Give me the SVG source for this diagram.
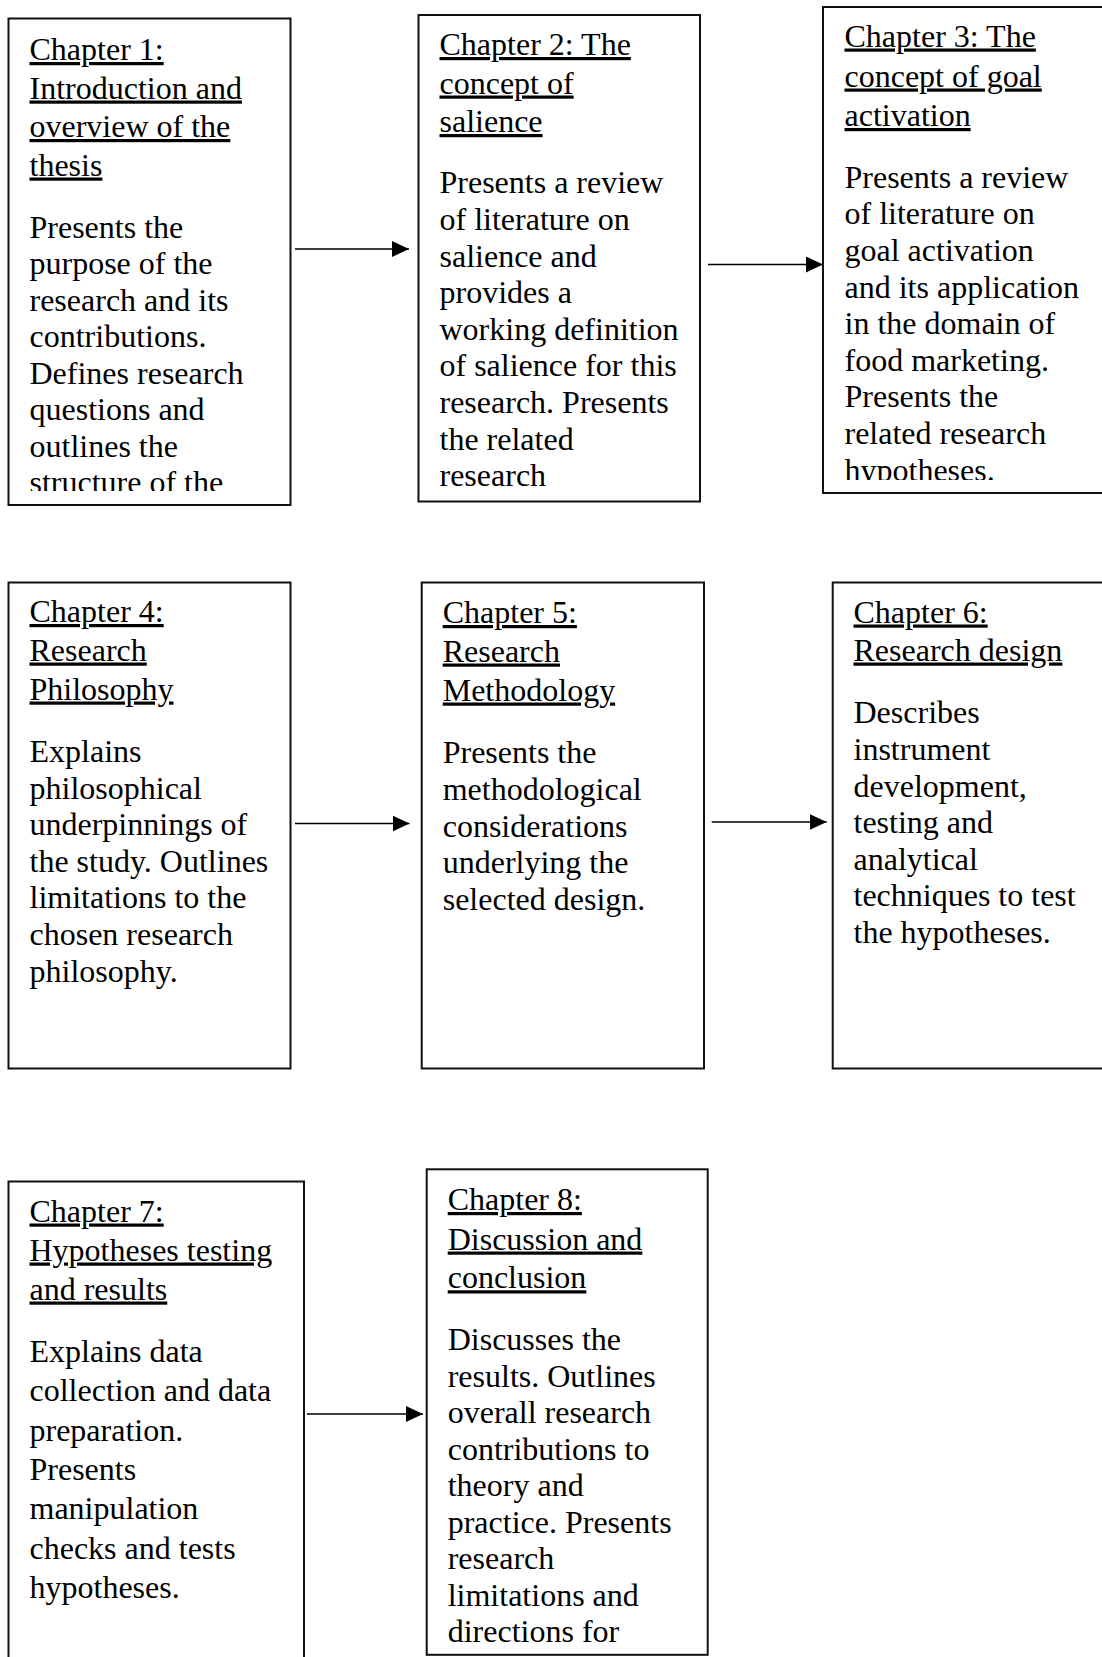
<svg xmlns="http://www.w3.org/2000/svg" width="1102" height="1657" viewBox="0 0 1102 1657">
  <style>
    .box { fill: #fff; stroke: #111; stroke-width: 2; }
    .txt { font-family: "Liberation Serif", "Times New Roman", serif; font-size: 32px; fill: #000; }
    .ttl { text-decoration: underline; text-decoration-thickness: 2px; text-underline-offset: 4px; }
    .link { stroke: #000; stroke-width: 1.6; fill: none; marker-end: url(#head); }
  </style>
  <defs>
    <marker id="head" markerUnits="userSpaceOnUse" markerWidth="17" markerHeight="16" refX="17" refY="8" orient="auto">
      <path d="M0,0 L17,8 L0,16 z" fill="#000"/>
    </marker>
    <clipPath id="clip1"><rect x="0" y="0" width="300" height="491"/></clipPath>
    <clipPath id="clip3"><rect x="820" y="0" width="282" height="480"/></clipPath>
  </defs>
  <rect width="1102" height="1657" fill="#fff"/>

  <!-- Chapter 1 -->
  <g id="ch1">
    <rect class="box" x="8.5" y="18.5" width="282" height="486.5"/>
    <g class="txt" clip-path="url(#clip1)">
      <text class="ttl" x="29.5" y="60">Chapter 1:</text>
      <text class="ttl" x="29.5" y="98.5">Introduction and</text>
      <text class="ttl" x="29.5" y="137">overview of the</text>
      <text class="ttl" x="29.5" y="175.5">thesis</text>
      <text x="29.5" y="237.5">Presents the</text>
      <text x="29.5" y="274">purpose of the</text>
      <text x="29.5" y="310.5">research and its</text>
      <text x="29.5" y="347">contributions.</text>
      <text x="29.5" y="383.5">Defines research</text>
      <text x="29.5" y="420">questions and</text>
      <text x="29.5" y="456.5">outlines the</text>
      <text x="29.5" y="493">structure of the</text>
    </g>
  </g>

  <!-- Chapter 2 -->
  <g id="ch2">
    <rect class="box" x="418.5" y="15" width="281.5" height="486.5"/>
    <g class="txt">
      <text class="ttl" x="439.5" y="55">Chapter 2: The</text>
      <text class="ttl" x="439.5" y="93.5">concept of</text>
      <text class="ttl" x="439.5" y="132">salience</text>
      <text x="439.5" y="193.3">Presents a review</text>
      <text x="439.5" y="229.9">of literature on</text>
      <text x="439.5" y="266.5">salience and</text>
      <text x="439.5" y="303.1">provides a</text>
      <text x="439.5" y="339.7">working definition</text>
      <text x="439.5" y="376.3">of salience for this</text>
      <text x="439.5" y="412.9">research. Presents</text>
      <text x="439.5" y="449.5">the related</text>
      <text x="439.5" y="486.1">research</text>
    </g>
  </g>

  <!-- Chapter 3 -->
  <g id="ch3">
    <rect class="box" x="823" y="7" width="290" height="486"/>
    <g class="txt" clip-path="url(#clip3)">
      <text class="ttl" x="844.5" y="46.5">Chapter 3: The</text>
      <text class="ttl" x="844.5" y="86.5">concept of goal</text>
      <text class="ttl" x="844.5" y="126">activation</text>
      <text x="844.5" y="187.7">Presents a review</text>
      <text x="844.5" y="224.3">of literature on</text>
      <text x="844.5" y="260.9">goal activation</text>
      <text x="844.5" y="297.5">and its application</text>
      <text x="844.5" y="334.1">in the domain of</text>
      <text x="844.5" y="370.7">food marketing.</text>
      <text x="844.5" y="407.3">Presents the</text>
      <text x="844.5" y="443.9">related research</text>
      <text x="844.5" y="480.5">hypotheses.</text>
    </g>
  </g>

  <!-- Chapter 4 -->
  <g id="ch4">
    <rect class="box" x="8.5" y="582.5" width="282" height="486"/>
    <g class="txt">
      <text class="ttl" x="29.5" y="622">Chapter 4:</text>
      <text class="ttl" x="29.5" y="660.5">Research</text>
      <text class="ttl" x="29.5" y="699.5">Philosophy</text>
      <text x="29.5" y="762">Explains</text>
      <text x="29.5" y="798.6">philosophical</text>
      <text x="29.5" y="835.2">underpinnings of</text>
      <text x="29.5" y="871.8">the study. Outlines</text>
      <text x="29.5" y="908.4">limitations to the</text>
      <text x="29.5" y="945">chosen research</text>
      <text x="29.5" y="981.6">philosophy.</text>
    </g>
  </g>

  <!-- Chapter 5 -->
  <g id="ch5">
    <rect class="box" x="421.7" y="582.5" width="282.3" height="486"/>
    <g class="txt">
      <text class="ttl" x="442.7" y="623">Chapter 5:</text>
      <text class="ttl" x="442.7" y="661.5">Research</text>
      <text class="ttl" x="442.7" y="700.5">Methodology</text>
      <text x="442.7" y="763.3">Presents the</text>
      <text x="442.7" y="799.9">methodological</text>
      <text x="442.7" y="836.5">considerations</text>
      <text x="442.7" y="873.1">underlying the</text>
      <text x="442.7" y="909.7">selected design.</text>
    </g>
  </g>

  <!-- Chapter 6 -->
  <g id="ch6">
    <rect class="box" x="832.7" y="582.5" width="290" height="486"/>
    <g class="txt">
      <text class="ttl" x="853.5" y="622.5">Chapter 6:</text>
      <text class="ttl" x="853.5" y="660.5">Research design</text>
      <text x="853.5" y="723.3">Describes</text>
      <text x="853.5" y="759.9">instrument</text>
      <text x="853.5" y="796.5">development,</text>
      <text x="853.5" y="833.1">testing and</text>
      <text x="853.5" y="869.7">analytical</text>
      <text x="853.5" y="906.3">techniques to test</text>
      <text x="853.5" y="942.9">the hypotheses.</text>
    </g>
  </g>

  <!-- Chapter 7 -->
  <g id="ch7">
    <rect class="box" x="8.5" y="1181.5" width="295.5" height="500"/>
    <g class="txt">
      <text class="ttl" x="29.5" y="1221.5">Chapter 7:</text>
      <text class="ttl" x="29.5" y="1260.5">Hypotheses testing</text>
      <text class="ttl" x="29.5" y="1299.5">and results</text>
      <text x="29.5" y="1361.7">Explains data</text>
      <text x="29.5" y="1401.1">collection and data</text>
      <text x="29.5" y="1440.5">preparation.</text>
      <text x="29.5" y="1479.9">Presents</text>
      <text x="29.5" y="1519.3">manipulation</text>
      <text x="29.5" y="1558.7">checks and tests</text>
      <text x="29.5" y="1598.1">hypotheses.</text>
    </g>
  </g>

  <!-- Chapter 8 -->
  <g id="ch8">
    <rect class="box" x="426.7" y="1169.3" width="281" height="485.5"/>
    <g class="txt">
      <text class="ttl" x="447.7" y="1210">Chapter 8:</text>
      <text class="ttl" x="447.7" y="1249.5">Discussion and</text>
      <text class="ttl" x="447.7" y="1288.3">conclusion</text>
      <text x="447.7" y="1350">Discusses the</text>
      <text x="447.7" y="1386.5">results. Outlines</text>
      <text x="447.7" y="1423">overall research</text>
      <text x="447.7" y="1459.5">contributions to</text>
      <text x="447.7" y="1496">theory and</text>
      <text x="447.7" y="1532.5">practice. Presents</text>
      <text x="447.7" y="1569">research</text>
      <text x="447.7" y="1605.5">limitations and</text>
      <text x="447.7" y="1642">directions for</text>
    </g>
  </g>

  <!-- Flow between chapters -->
  <g id="connectors">
    <line class="link" x1="295" y1="249" x2="409" y2="249"/>
    <line class="link" x1="708" y1="264.5" x2="823" y2="264.5"/>
    <line class="link" x1="295" y1="823.5" x2="409.5" y2="823.5"/>
    <line class="link" x1="711.7" y1="822" x2="826.7" y2="822"/>
    <line class="link" x1="307" y1="1414" x2="423" y2="1414"/>
  </g>
</svg>
